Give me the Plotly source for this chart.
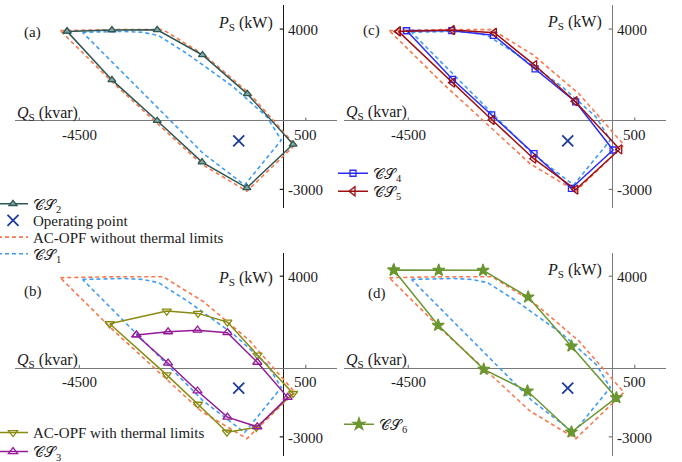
import plotly.graph_objects as go

# ---------------- data (Q in kvar, P in kW) ----------------
OPF_Q = [-4920, -3780, -2650, -1750, -740, 260, -800, -1810, -2810, -3800, -4920]
OPF_P = [3935, 3975, 3975, 2880, 1190, -1060, -3080, -1880, -60, 1740, 3935]

CS1_Q = [-4430, -3500, -3100, -2750, -2130, -1100, -350, -40, -850, -1770, -4430]
CS1_P = [3860, 3900, 3860, 3720, 2940, 1480, 150, -850, -2810, -1420, 3860]

CS2_Q = [-4770, -3780, -2780, -1780, -790, 220, -800, -1790, -2780, -3780, -4770]
CS2_P = [3900, 3960, 3970, 2870, 1170, -1030, -2930, -1810, 0, 1780, 3900]

OPFT_Q = [-3830, -2570, -1880, -1230, -565, 220, -590, -1240, -1880, -2570, -3830]
OPFT_P = [1930, 2480, 2380, 2000, 560, -1110, -2590, -2800, -1580, -300, 1930]

CS3_Q = [-3240, -2540, -1890, -1230, -570, 100, -570, -1230, -1890, -2540, -3240]
CS3_P = [1440, 1580, 1650, 1540, 250, -1280, -2560, -2140, -1000, 210, 1440]

CS4_Q = [-4540, -3540, -2620, -1700, -805, 22, -898, -1725, -2660, -3525, -4540]
CS4_P = [3935, 3930, 3730, 2260, 820, -1280, -2952, -1440, 250, 1808, 3935]

CS5_Q = [-4720, -3530, -2600, -1710, -820, 168, -803, -1731, -2649, -3525, -4720]
CS5_P = [3900, 3960, 3840, 2430, 850, -1249, -3010, -1660, 31, 1660, 3900]

CS6_Q = [-4821, -3828, -2850, -1854, -898, 95, -898, -1869, -2834, -3841, -4821]
CS6_P = [4270, 4257, 4257, 3094, 959, -1294, -2789, -1002, -58, 1860, 4270]

OP_Q = [-980]
OP_P = [-880]

X_TICKS = [-4500, 500]
Y_TICKS = [4000, -3000]
PANEL_LABELS = ["(a)", "(c)", "(b)", "(d)"]

# ---------------- styling ----------------
FONT = "Liberation Serif"
ORANGE = "#f7784c"
LBLUE = "#429cf2"
W, H = 682, 462

fig = go.Figure()


def px2paper_x(px):
    return px / W


def px2paper_y(py):
    return 1 - py / H


def add_dashed(sfx, show_orange_leg=None, show_blue_leg=None):
    fig.add_trace(go.Scatter(
        x=OPF_Q, y=OPF_P, mode="lines", xaxis="x" + sfx, yaxis="y" + sfx,
        line=dict(color=ORANGE, width=1.6, dash="4px,3px"),
        name="AC-OPF without thermal limits",
        showlegend=show_orange_leg is not None,
        legend=show_orange_leg or "legend", hoverinfo="skip"))
    fig.add_trace(go.Scatter(
        x=CS1_Q, y=CS1_P, mode="lines", xaxis="x" + sfx, yaxis="y" + sfx,
        line=dict(color=LBLUE, width=1.6, dash="4px,3px"),
        name="𝒞𝒮<sub>1</sub>",
        showlegend=show_blue_leg is not None,
        legend=show_blue_leg or "legend", hoverinfo="skip"))


def add_cs(sfx, q, p, name, color, symbol, size, leg, fill=None, lw=1.5):
    fig.add_trace(go.Scatter(
        x=q, y=p, mode="lines+markers", xaxis="x" + sfx, yaxis="y" + sfx,
        line=dict(color=color, width=lw),
        marker=dict(symbol=symbol, size=size, color=fill or color,
                    line=dict(color=color, width=1.3)),
        name=name, legend=leg, showlegend=True, hoverinfo="skip"))


def add_op(sfx, leg=None):
    fig.add_trace(go.Scatter(
        x=OP_Q, y=OP_P, mode="markers", xaxis="x" + sfx, yaxis="y" + sfx,
        marker=dict(symbol="x-thin", size=11, line=dict(color="#1d3a9c", width=1.8)),
        name="Operating point", showlegend=leg is not None,
        legend=leg or "legend", hoverinfo="skip"))


# (a)
add_dashed("", "legend3", "legend4")
add_cs("", CS2_Q, CS2_P, "𝒞𝒮<sub>2</sub>", "#2f5753", "triangle-up", 7, "legend",
       fill="#7fa6a1")
add_op("", "legend2")
# (c)
add_dashed("2")
add_cs("2", CS4_Q, CS4_P, "𝒞𝒮<sub>4</sub>", "#2b2bf5", "square-open", 6, "legend5")
add_cs("2", CS5_Q, CS5_P, "𝒞𝒮<sub>5</sub>", "#9e0f12", "triangle-left-open", 8, "legend6")
add_op("2")
# (b)
add_dashed("3")
add_cs("3", OPFT_Q, OPFT_P, "AC-OPF with thermal limits", "#8a8a12", "triangle-down-open", 8, "legend7")
add_cs("3", CS3_Q, CS3_P, "𝒞𝒮<sub>3</sub>", "#951a97", "triangle-up-open", 8, "legend8")
add_op("3")
# (d)
add_dashed("4")
add_cs("4", CS6_Q, CS6_P, "𝒞𝒮<sub>6</sub>", "#6b9630", "star", 9, "legend9")
add_op("4")

# ---------------- axes ----------------
XR = [-5920, 1190]
YR_TOP = [-3812, 5052]
YR_BOT = [-3834, 5024]
xdom_l = [15 / W, 337 / W]
xdom_r = [344 / W, 666 / W]
ydom_t = [1 - 208 / H, 1 - 5 / H]
ydom_b = [1 - 456 / H, 1 - 252.7 / H]

layout_axes = {}
axis_cfg = {
    "": (xdom_l, ydom_t, YR_TOP, "#1a1a1a"),
    "2": (xdom_r, ydom_t, YR_TOP, "#7a7a7a"),
    "3": (xdom_l, ydom_b, YR_BOT, "#1a1a1a"),
    "4": (xdom_r, ydom_b, YR_BOT, "#7a7a7a"),
}
for sfx, (xd, yd, yr, vcol) in axis_cfg.items():
    layout_axes["xaxis" + sfx] = dict(
        domain=xd, range=XR, anchor="y" + sfx, showgrid=False, showticklabels=False,
        ticks="", showline=False, zeroline=True, zerolinecolor=vcol, zerolinewidth=1.4,
        fixedrange=True)
    layout_axes["yaxis" + sfx] = dict(
        domain=yd, range=yr, anchor="x" + sfx, showgrid=False, showticklabels=False,
        ticks="", showline=False, zeroline=True, zerolinecolor="#7a7a7a", zerolinewidth=1.4,
        fixedrange=True)

# ---------------- tick marks and texts ----------------
shapes = []
annotations = []
TXT = dict(family=FONT, size=15, color="#1a1a1a")

label_pos = {
    "": dict(lab=(-5768, 3873), ps_y=4250, qs_y=300),
    "2": dict(lab=(-5534, 3917), ps_y=4290, qs_y=340),
    "3": dict(lab=(-5768, 3312), ps_y=3880, qs_y=330),
    "4": dict(lab=(-5424, 3268), ps_y=4230, qs_y=330),
}
for i, (sfx, pos) in enumerate(label_pos.items()):
    xr, yr_ = "x" + sfx, "y" + sfx
    vcol = axis_cfg[sfx][3]
    for xt in X_TICKS:
        shapes.append(dict(type="line", xref=xr, yref=yr_, x0=xt, x1=xt, y0=0, y1=140,
                           line=dict(color="#7a7a7a", width=1.2)))
        annotations.append(dict(xref=xr, yref=yr_, x=xt, y=0, yshift=-4,
                                text=str(xt), showarrow=False, xanchor="center",
                                yanchor="top", font=TXT))
    for yt in Y_TICKS:
        shapes.append(dict(type="line", xref=xr, yref=yr_, x0=-75, x1=0, y0=yt, y1=yt,
                           line=dict(color=vcol, width=1.2)))
        annotations.append(dict(xref=xr, yref=yr_, x=0, y=yt, xshift=3, yshift=-1,
                                text=str(yt), showarrow=False, xanchor="left",
                                yanchor="middle", font=TXT))
    annotations.append(dict(xref=xr, yref=yr_, x=-180, y=pos["ps_y"],
                            text="<i>P</i><sub>S</sub> (kW)", showarrow=False,
                            xanchor="right", yanchor="middle", font=dict(TXT, size=16)))
    annotations.append(dict(xref=xr, yref=yr_, x=XR[0], y=pos["qs_y"],
                            text="<i>Q</i><sub>S</sub> (kvar)", showarrow=False,
                            xanchor="left", yanchor="middle", font=dict(TXT, size=16)))
    annotations.append(dict(xref=xr, yref=yr_, x=pos["lab"][0], y=pos["lab"][1],
                            text=PANEL_LABELS[i], showarrow=False,
                            xanchor="left", yanchor="middle", font=TXT))

# ---------------- legends (one entry each) ----------------
leg_common = dict(bgcolor="rgba(0,0,0,0)", borderwidth=0, font=TXT, itemwidth=30,
                  xanchor="left", yanchor="middle", itemclick=False, itemdoubleclick=False)
leg_specs = {
    "legend": (-7, 204), "legend2": (-7, 220.7), "legend3": (-7, 237.4), "legend4": (-7, 254),
    "legend5": (333, 173.5), "legend6": (333, 191.5),
    "legend7": (-7, 432.8), "legend8": (-7, 451.8),
    "legend9": (339, 424.5),
}
legends = {k: dict(leg_common, x=px2paper_x(v[0]), y=px2paper_y(v[1]))
           for k, v in leg_specs.items()}

fig.update_layout(
    width=W, height=H, margin=dict(l=0, r=0, t=0, b=0, autoexpand=False),
    paper_bgcolor="white", plot_bgcolor="white",
    shapes=shapes, annotations=annotations, **layout_axes, **legends,
)

fig.write_html("out.html", config={"displayModeBar": False})
